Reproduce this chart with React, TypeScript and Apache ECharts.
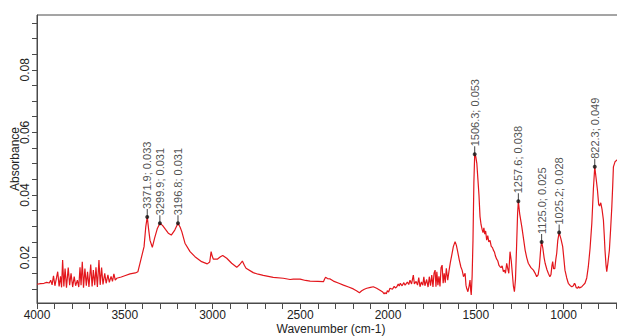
import React, { useEffect, useRef } from "react";
import * as echarts from "echarts";

// Spectrum: [wavenumber (cm-1), absorbance]
const spectrumHigh: [number, number][] = [
  [4000, 0.0115], [3980, 0.0117], [3960, 0.0118], [3945, 0.0121], [3930, 0.0119],
  [3922, 0.0128], [3914, 0.0113], [3906, 0.0142], [3898, 0.011], [3889, 0.0135],
  [3882, 0.0155], [3874, 0.0108], [3866, 0.014], [3860, 0.0105], [3854, 0.0192],
  [3847, 0.0108], [3840, 0.0165], [3832, 0.0104], [3822, 0.0168], [3814, 0.0112],
  [3806, 0.015], [3797, 0.0106], [3788, 0.0139], [3780, 0.011], [3770, 0.0128],
  [3762, 0.0106], [3755, 0.0169], [3749, 0.0112], [3742, 0.0187], [3735, 0.0104],
  [3727, 0.0165], [3719, 0.011], [3712, 0.0155], [3704, 0.0106], [3694, 0.0178],
  [3686, 0.0108], [3679, 0.016], [3671, 0.0112], [3664, 0.0169], [3656, 0.0106],
  [3647, 0.0192], [3640, 0.0113], [3632, 0.0168], [3624, 0.0114], [3614, 0.015],
  [3606, 0.0118], [3596, 0.0145], [3588, 0.0121], [3578, 0.014], [3570, 0.0124],
  [3562, 0.0148], [3554, 0.0128], [3546, 0.0134], [3520, 0.0138], [3500, 0.0142],
  [3470, 0.0148], [3440, 0.0151], [3425, 0.0155], [3412, 0.0185], [3404, 0.0203],
  [3390, 0.0235], [3380, 0.03], [3371.9, 0.033], [3364, 0.029], [3356, 0.0255],
  [3343, 0.0233], [3330, 0.0262], [3315, 0.0292], [3299.9, 0.031], [3285, 0.0303],
  [3268, 0.029], [3252, 0.0278], [3235, 0.0272], [3215, 0.0288], [3196.8, 0.031],
  [3185, 0.0298], [3175, 0.0283], [3157, 0.0246], [3128, 0.0219], [3100, 0.0203],
  [3062, 0.0187], [3030, 0.018], [3016, 0.0186], [3008, 0.0219], [3002, 0.0205],
  [2995, 0.0195], [2973, 0.0195], [2955, 0.0203], [2942, 0.0207], [2919, 0.0198],
  [2891, 0.0182], [2862, 0.0169], [2845, 0.0178], [2830, 0.0189], [2818, 0.0175],
  [2809, 0.0166], [2768, 0.0152], [2740, 0.0147], [2711, 0.0143], [2654, 0.0137],
  [2597, 0.0134], [2558, 0.013], [2540, 0.0131], [2501, 0.0131],
];

const spectrumMid: [number, number][] = [
  [2470, 0.0127], [2444, 0.0125], [2400, 0.0124], [2368, 0.0123], [2362, 0.0131],
  [2356, 0.0137], [2345, 0.0133], [2330, 0.0132], [2311, 0.0125], [2280, 0.0118],
  [2254, 0.0112], [2225, 0.0106], [2198, 0.01], [2180, 0.0094], [2163, 0.0088],
  [2150, 0.0094], [2135, 0.0099], [2121, 0.0102], [2100, 0.0105], [2084, 0.0107],
  [2065, 0.0102], [2046, 0.0096], [2030, 0.009], [2022, 0.0084], [2017, 0.0088],
  [2010, 0.0084], [2004, 0.0094], [1997, 0.009], [1989, 0.0102], [1975, 0.0099],
  [1965, 0.0108], [1958, 0.0103], [1950, 0.0107], [1942, 0.0116], [1936, 0.0109],
  [1930, 0.0118], [1920, 0.011], [1910, 0.012], [1903, 0.0112], [1890, 0.0122],
  [1882, 0.0114], [1875, 0.0128], [1866, 0.0116], [1856, 0.0144], [1850, 0.0116],
  [1840, 0.0124], [1832, 0.0112], [1825, 0.0136], [1818, 0.0107], [1810, 0.0122],
  [1802, 0.0112], [1796, 0.0139], [1790, 0.011], [1780, 0.013], [1772, 0.0106],
  [1765, 0.0139], [1758, 0.011], [1751, 0.0144], [1744, 0.0106], [1738, 0.015],
  [1732, 0.016], [1727, 0.0107], [1722, 0.0155], [1716, 0.0112], [1710, 0.014],
  [1704, 0.0108], [1698, 0.0168], [1692, 0.0176], [1686, 0.0118], [1680, 0.015],
  [1674, 0.012], [1668, 0.0166], [1660, 0.0128], [1652, 0.016], [1645, 0.0185],
  [1637, 0.0208], [1628, 0.0235], [1618, 0.0251], [1611, 0.024], [1605, 0.0224],
  [1594, 0.0192], [1585, 0.017], [1578, 0.016], [1570, 0.0139], [1565, 0.0145],
  [1561, 0.015], [1556, 0.0112], [1552, 0.0102], [1545, 0.0091], [1538, 0.011],
  [1533, 0.0128], [1529, 0.0095], [1526, 0.0081], [1521, 0.014], [1516, 0.0256],
  [1511, 0.044], [1506.3, 0.053], [1500, 0.0522], [1494, 0.05], [1488, 0.045],
  [1482, 0.04], [1476, 0.0331], [1470, 0.0305], [1464, 0.029], [1459, 0.028],
  [1454, 0.0295], [1449, 0.0275], [1444, 0.0285], [1438, 0.0256], [1432, 0.027],
  [1426, 0.025], [1419, 0.0255], [1412, 0.0236], [1405, 0.0232], [1400, 0.0224],
  [1394, 0.0218], [1388, 0.0205], [1381, 0.0195], [1375, 0.019], [1368, 0.0175],
  [1362, 0.0171], [1356, 0.0168], [1350, 0.0174], [1343, 0.0155], [1337, 0.016],
  [1331, 0.015],
];

const spectrumLow: [number, number][] = [
  [1324, 0.0182], [1318, 0.0165], [1312, 0.015], [1305, 0.0219], [1298, 0.019],
  [1292, 0.015], [1286, 0.011], [1280, 0.0091], [1274, 0.013], [1268, 0.023],
  [1262, 0.034], [1257.6, 0.038], [1250, 0.034], [1238, 0.0299], [1228, 0.026],
  [1219, 0.0224], [1210, 0.02], [1201, 0.0182], [1186, 0.0168], [1172, 0.016],
  [1160, 0.0148], [1153, 0.0139], [1145, 0.0145], [1138, 0.017], [1130, 0.023],
  [1125, 0.025], [1118, 0.023], [1111, 0.02], [1105, 0.0182], [1095, 0.0162],
  [1087, 0.015], [1078, 0.0139], [1072, 0.0145], [1066, 0.0175], [1062, 0.0187],
  [1057, 0.0165], [1050, 0.0165], [1044, 0.0195], [1039, 0.0214], [1033, 0.0255],
  [1025.2, 0.028], [1015, 0.026], [1005, 0.0235], [998, 0.0195], [992, 0.016],
  [982, 0.0135], [973, 0.0118], [963, 0.0111], [953, 0.0107], [944, 0.011],
  [938, 0.0118], [934, 0.0115], [928, 0.0104], [920, 0.0102], [915, 0.0108],
  [910, 0.0103], [903, 0.0105], [896, 0.0107], [888, 0.0112], [878, 0.0118],
  [868, 0.0135], [859, 0.0171], [849, 0.023], [839, 0.031], [830, 0.042],
  [822.3, 0.049], [815, 0.0455], [807, 0.0416], [800, 0.037], [795, 0.0365],
  [788, 0.0375], [781, 0.0355], [773, 0.032], [768, 0.027], [764, 0.0224],
  [758, 0.0175], [754, 0.0155], [748, 0.018], [739, 0.0224], [732, 0.029],
  [725, 0.0363], [720, 0.043], [716, 0.049], [707, 0.0506], [695, 0.0512],
  [680, 0.0515], [665, 0.0518], [650, 0.052],
];

const peakWavenumbers = [3371.9, 3299.9, 3196.8, 1506.3, 1257.6, 1125.0, 1025.2, 822.3];
const peakAbsorbance = [0.033, 0.031, 0.031, 0.053, 0.038, 0.025, 0.028, 0.049];

const xLabelValues = [4000, 3500, 3000, 2500, 2000, 1500, 1000];
const yLabelValues = [0.02, 0.04, 0.06, 0.08];

const X_MIN = 650;
const X_MAX = 4000;
const Y_MIN = 0.0055;
const Y_MAX = 0.0975;

export default function App() {
  const ref = useRef<HTMLDivElement>(null);

  useEffect(() => {
    if (!ref.current) return;
    const chart = echarts.init(ref.current, undefined, { renderer: "svg" });

    const xTicks: number[] = [];
    for (let v = 4000; v >= 700; v -= 100) xTicks.push(v);
    const yTicks: number[] = [];
    for (let i = 2; i <= 19; i++) yTicks.push(+(i * 0.005).toFixed(3));

    const spectrum = [...spectrumHigh, ...spectrumMid, ...spectrumLow];
    const peaks = peakWavenumbers.map((x, i) => [x, peakAbsorbance[i]]);
    const font = "'Liberation Sans', Arial, sans-serif";
    const axisColor = "#4a4a4a";

    chart.setOption({
      animation: false,
      grid: {
        left: 37,
        top: 15,
        right: 15,
        bottom: 33,
        show: true,
        borderColor: axisColor,
        borderWidth: 1,
        containLabel: false,
        outerBoundsMode: "none",
      },
      xAxis: {
        type: "value",
        inverse: true,
        min: X_MIN,
        max: X_MAX,
        name: "Wavenumber (cm-1)",
        nameLocation: "middle",
        nameGap: 20,
        nameMoveOverlap: false,
        nameTextStyle: { fontFamily: font, fontSize: 12, color: "#222" },
        axisLine: { show: true, lineStyle: { color: axisColor, width: 1 } },
        axisTick: {
          show: true,
          inside: false,
          length: 6,
          customValues: xTicks,
          lineStyle: { color: axisColor },
        },
        axisLabel: {
          customValues: xLabelValues,
          margin: 6,
          fontFamily: font,
          fontSize: 12,
          color: "#222",
          formatter: (v: number) => String(v),
        },
        splitLine: { show: false },
      },
      yAxis: {
        type: "value",
        min: Y_MIN,
        max: Y_MAX,
        name: "Absorbance",
        nameLocation: "middle",
        nameGap: 16,
        nameMoveOverlap: false,
        nameRotate: 90,
        nameTextStyle: { fontFamily: font, fontSize: 12, color: "#222" },
        axisLine: { show: true, lineStyle: { color: axisColor, width: 1 } },
        axisTick: {
          show: true,
          inside: false,
          length: 5,
          customValues: yTicks,
          lineStyle: { color: axisColor },
        },
        axisLabel: {
          customValues: yLabelValues,
          rotate: 90,
          margin: 6,
          fontFamily: font,
          fontSize: 12,
          color: "#222",
          formatter: (v: number) => v.toFixed(2),
        },
        splitLine: { show: false },
      },
      series: [
        {
          type: "line",
          data: spectrum,
          showSymbol: false,
          symbol: "none",
          lineStyle: { color: "#e3161c", width: 1.2 },
          z: 2,
        },
        {
          type: "scatter",
          data: peaks,
          symbol: "rect",
          symbolSize: [1, 8],
          symbolOffset: [0, -4],
          itemStyle: { color: "#111" },
          silent: true,
          z: 3,
        },
        {
          type: "scatter",
          data: peaks,
          symbol: "circle",
          symbolSize: 4,
          itemStyle: { color: "#111" },
          z: 4,
          label: {
            show: true,
            position: "top",
            distance: 6,
            rotate: 90,
            align: "left",
            verticalAlign: "middle",
            fontFamily: font,
            fontSize: 11,
            color: "#222",
            formatter: (p: any) =>
              `${Number(p.value[0]).toFixed(1)}; ${Number(p.value[1]).toFixed(3)}`,
          },
        },
      ],
    });

    return () => chart.dispose();
  }, []);

  return (
    <div
      style={{
        position: "fixed",
        left: 0,
        top: 0,
        width: 617,
        height: 336,
        overflow: "hidden",
        background: "#fff",
      }}
    >
      <div ref={ref} style={{ width: 640, height: 336 }} />
    </div>
  );
}
